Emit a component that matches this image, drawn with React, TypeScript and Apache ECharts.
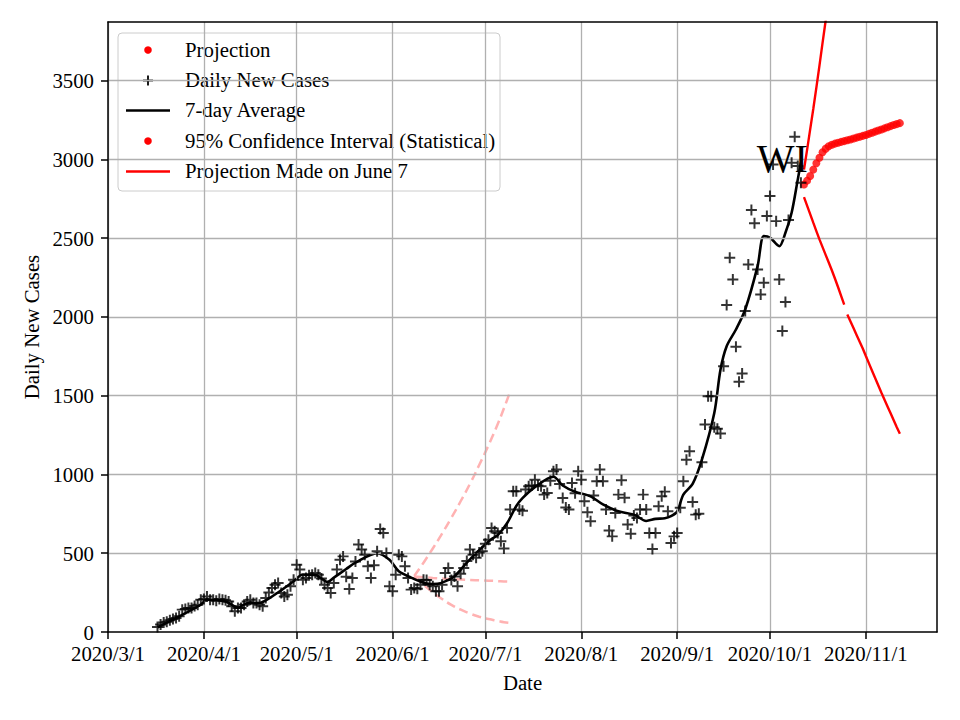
import React, { useEffect, useRef } from 'react';
import * as echarts from 'echarts';

// ---------- data ----------
const DAILY_START = '2020-03-17';
const DAILY_CASES = [
  32, 47, 61, 65, 74, 83, 89, 100, 142, 146, 152, 152, 165, 173, 205,
  210, 226, 205, 205, 199, 210, 205, 201, 194, 163, 131, 152, 152, 173, 194,
  205, 184, 184, 173, 163, 216, 250, 279, 300, 311, 248, 226, 237, 290, 332,
  427, 396, 332, 343, 360, 364, 375, 364, 340, 300, 279, 248, 311, 396, 459,
  480, 350, 273, 343, 448, 555, 523, 491, 417, 343, 424, 512, 654, 629, 502, 290,
  258, 364, 491, 480, 417, 343, 269, 279, 275, 300, 332, 330, 300, 290, 258,
  258, 300, 375, 406, 330, 353, 290, 370, 406, 450, 523, 491, 472, 504, 512,
  560, 586, 660, 640, 629, 576, 530, 660, 777, 893, 893, 777, 770, 904, 925,
  930, 967, 930, 925, 872, 883, 960, 1020, 1031, 940, 851, 790, 777, 946, 880, 1020,
  967, 830, 760, 703, 866, 957, 1031, 957, 777, 645, 607, 756, 872, 963, 852,
  682, 624, 740, 724, 777, 872, 777, 629, 527, 629, 798, 861, 891, 766, 565, 607,
  629, 788, 957, 1094, 1147, 825, 745, 750, 1077, 1317, 1497, 1497, 1300, 1290, 1260,
  1687, 2075, 2376, 2238, 1810, 1588, 1641, 2037, 2333, 2678, 2594, 2301, 2143, 2217, 2640,
  2767, 2968, 2608, 2238, 1910, 2094, 2615, 2979, 3144, 2958, 2852,
];

const AVG_DATES = [
  '2020-03-17', '2020-03-24', '2020-03-31', '2020-04-02', '2020-04-08', '2020-04-12',
  '2020-04-15', '2020-04-19', '2020-04-21', '2020-04-26', '2020-04-30', '2020-05-03',
  '2020-05-07', '2020-05-11', '2020-05-13', '2020-05-17', '2020-05-20', '2020-05-27',
  '2020-05-31', '2020-06-03', '2020-06-07', '2020-06-10', '2020-06-13', '2020-06-16',
  '2020-06-19', '2020-06-21', '2020-06-25', '2020-06-29', '2020-07-03', '2020-07-05',
  '2020-07-08', '2020-07-11', '2020-07-13', '2020-07-17', '2020-07-23', '2020-07-26',
  '2020-07-30', '2020-08-04', '2020-08-08', '2020-08-13', '2020-08-18', '2020-08-22',
  '2020-08-25', '2020-08-28', '2020-08-30', '2020-09-01', '2020-09-03', '2020-09-06',
  '2020-09-09', '2020-09-13', '2020-09-15', '2020-09-17', '2020-09-20', '2020-09-23',
  '2020-09-27', '2020-09-29', '2020-10-01', '2020-10-04', '2020-10-06', '2020-10-08',
  '2020-10-10', '2020-10-11',
];
const AVG_VALUES = [
  30, 99, 173, 205, 194, 155,
  182, 184, 200, 265, 322, 365,
  362, 318, 345, 400, 440, 500,
  458, 385, 345, 320, 305, 308,
  330, 353, 440, 520, 590, 615,
  690, 800, 850, 920, 985, 930,
  890, 861, 810, 766, 745, 705,
  718, 722, 735, 765, 872, 940,
  1094, 1390, 1665, 1814, 1920, 2047,
  2322, 2513, 2503, 2449, 2534, 2661,
  2873, 2980,
];

const PROJ_START = '2020-10-12';
const PROJECTION = [
  2840, 2865, 2895, 2935, 2975, 3010, 3045, 3068, 3083, 3093, 3100, 3106, 3111, 3116, 3121, 3126,
  3132, 3138, 3144, 3149, 3155, 3162, 3169, 3176, 3183, 3190, 3197, 3204, 3211, 3218, 3224, 3230,
];
const CI_UPPER = [2935, 3060, 3190, 3320, 3455, 3595, 3740, 3880, 4030];
const CI_LOWER_A = [2760, 2706, 2652, 2598, 2545, 2492, 2443, 2394, 2345, 2296, 2244, 2190, 2134, 2078];
const CI_LOWER_B_START = '2020-10-26';
const CI_LOWER_B = [2015, 1972, 1929, 1886, 1843, 1800, 1752, 1705, 1658, 1612, 1566, 1520, 1476, 1432, 1388, 1344, 1300, 1258];

const JUNE_DATES = [
  '2020-06-08', '2020-06-11', '2020-06-14', '2020-06-17', '2020-06-20', '2020-06-23',
  '2020-06-26', '2020-06-29', '2020-07-02', '2020-07-05', '2020-07-07', '2020-07-09',
];
const JUNE_UPPER = [355, 440, 530, 625, 725, 830, 940, 1060, 1185, 1320, 1420, 1525];
const JUNE_MID = [353, 348, 343, 339, 336, 333, 330, 328, 326, 323, 321, 320];
const JUNE_LOWER = [353, 300, 252, 210, 172, 142, 117, 97, 82, 70, 62, 57];

const X_TICKS = ['2020/3/1', '2020/4/1', '2020/5/1', '2020/6/1', '2020/7/1', '2020/8/1', '2020/9/1', '2020/10/1', '2020/11/1'];
const X_MIN = '2020/3/1';
const X_MAX = '2020/11/24';
const Y_TICKS = [0, 500, 1000, 1500, 2000, 2500, 3000, 3500];
const Y_MAX = 3872;

const LEGEND_ITEMS = [
  'Projection',
  'Daily New Cases',
  '7-day Average',
  '95% Confidence Interval (Statistical)',
  'Projection Made on June 7',
];

// ---------- helpers ----------
function parts(s: string) {
  return s.split(/[-/]/).map(Number);
}
function toTime(s: string, add = 0) {
  const [y, m, d] = parts(s);
  return new Date(y, m - 1, d + add).getTime();
}
function fmt(v: number) {
  const dt = new Date(Math.round(v));
  return `${dt.getFullYear()}/${dt.getMonth() + 1}/${dt.getDate()}`;
}
function seq(start: string, vals: number[]) {
  return vals.map((v, i) => [toTime(start, i), v]);
}

const FONT = 'Liberation Serif';
const PLUS = 'path://M0,4.1H10V5.9H0Z M4.1,0H5.9V10H4.1Z';
const RED = '#ff0000';
const PINK = '#ffb2b2';

export default function App() {
  const ref = useRef<HTMLDivElement>(null);
  useEffect(() => {
    if (!ref.current) return;
    const chart = echarts.init(ref.current, undefined, { renderer: 'svg' });
    const xTickTimes = X_TICKS.map((t) => toTime(t));
    const xMin = toTime(X_MIN);
    const xMax = toTime(X_MAX);
    const axisLineStyle = { color: '#000', width: 1.5 };
    const labelStyle = { color: '#000', fontSize: 20.8, fontFamily: FONT };

    const pinkLine = (name: string, vals: number[]) => ({
      name,
      type: 'line',
      data: JUNE_DATES.map((d, i) => [toTime(d), vals[i]]),
      showSymbol: false,
      symbol: 'none',
      smooth: true,
      z: 2,
      lineStyle: { color: PINK, width: 2.5, type: [9, 5] },
    });

    const rowY = [49, 79.5, 109.5, 140, 170.5];
    const legendChildren: any[] = [
      {
        type: 'rect',
        shape: { x: 118, y: 33, width: 382, height: 158, r: 4 },
        style: { fill: 'rgba(255,255,255,0.8)', stroke: '#cccccc', lineWidth: 1 },
      },
      { type: 'circle', shape: { cx: 148, cy: rowY[0] + 1, r: 3.8 }, style: { fill: RED } },
      { type: 'rect', shape: { x: 143, y: rowY[1] + 0.1, width: 10, height: 1.8 }, style: { fill: '#000' } },
      { type: 'rect', shape: { x: 147.1, y: rowY[1] - 4, width: 1.8, height: 10 }, style: { fill: '#000' } },
      { type: 'line', shape: { x1: 126, y1: rowY[2] + 1, x2: 170, y2: rowY[2] + 1 }, style: { stroke: '#000', lineWidth: 2.6 } },
      { type: 'circle', shape: { cx: 148, cy: rowY[3] + 1, r: 3.8 }, style: { fill: RED } },
      { type: 'line', shape: { x1: 126, y1: rowY[4] + 1, x2: 170, y2: rowY[4] + 1 }, style: { stroke: RED, lineWidth: 2.4 } },
      ...LEGEND_ITEMS.map((t, i) => ({
        type: 'text',
        x: 185,
        y: rowY[i],
        style: { text: t, font: `20.8px "${FONT}"`, fill: '#000', verticalAlign: 'middle' },
      })),
    ];

    const option: any = {
      animation: false,
      backgroundColor: '#ffffff',
      textStyle: { fontFamily: FONT },
      grid: { left: 108, top: 22, right: 23, bottom: 88, containLabel: false },
      xAxis: [
        {
          type: 'value',
          min: xMin,
          max: xMax,
          position: 'bottom',
          z: 10,
          axisLine: { show: true, onZero: false, lineStyle: axisLineStyle },
          axisTick: { show: true, length: 7, lineStyle: axisLineStyle, customValues: xTickTimes },
          axisLabel: { ...labelStyle, customValues: xTickTimes, formatter: (v: number) => fmt(v), margin: 11 },
          splitLine: { show: false },
          name: 'Date',
          nameLocation: 'middle',
          nameGap: 40,
          nameTextStyle: labelStyle,
        },
        {
          type: 'value',
          min: xMin,
          max: xMax,
          position: 'top',
          z: 10,
          axisLine: { show: true, onZero: false, lineStyle: axisLineStyle },
          axisTick: { show: false },
          axisLabel: { show: false },
          splitLine: { show: false },
        },
      ],
      yAxis: [
        {
          type: 'value',
          min: 0,
          max: Y_MAX,
          interval: 500,
          z: 10,
          axisLine: { show: true, onZero: false, lineStyle: axisLineStyle },
          axisTick: { show: true, length: 7, lineStyle: axisLineStyle, customValues: Y_TICKS },
          axisLabel: {
            ...labelStyle,
            customValues: Y_TICKS,
            margin: 14,
            formatter: (v: number) => (v % 500 === 0 ? String(v) : ''),
          },
          splitLine: { show: false },
          name: 'Daily New Cases',
          nameLocation: 'middle',
          nameGap: 66,
          nameTextStyle: labelStyle,
        },
        {
          type: 'value',
          min: 0,
          max: Y_MAX,
          position: 'right',
          z: 10,
          axisLine: { show: true, onZero: false, lineStyle: axisLineStyle },
          axisTick: { show: false },
          axisLabel: { show: false },
          splitLine: { show: false },
        },
      ],
      series: [
        {
          name: 'grid',
          type: 'line',
          data: [],
          z: 1,
          silent: true,
          markLine: {
            silent: true,
            symbol: ['none', 'none'],
            label: { show: false },
            lineStyle: { color: '#b0b0b0', width: 1.3, type: 'solid' },
            data: [
              ...xTickTimes.map((t) => ({ xAxis: t })),
              ...Y_TICKS.filter((v) => v > 0).map((v) => ({ yAxis: v })),
            ],
          },
        },
        pinkLine('June 7 upper', JUNE_UPPER),
        pinkLine('June 7 middle', JUNE_MID),
        pinkLine('June 7 lower', JUNE_LOWER),
        {
          name: '7-day Average',
          type: 'line',
          data: AVG_DATES.map((d, i) => [toTime(d), AVG_VALUES[i]]),
          showSymbol: false,
          symbol: 'none',
          smooth: 0.3,
          z: 4,
          lineStyle: { color: '#000', width: 2.6 },
        },
        {
          name: 'Projection',
          type: 'scatter',
          data: seq(PROJ_START, PROJECTION),
          symbol: 'circle',
          symbolSize: 8,
          z: 5,
          itemStyle: { color: RED },
        },
        {
          name: 'CI upper',
          type: 'line',
          data: seq(PROJ_START, CI_UPPER),
          showSymbol: false,
          symbol: 'none',
          z: 5,
          lineStyle: { color: RED, width: 2.4 },
        },
        {
          name: 'CI lower a',
          type: 'line',
          data: seq(PROJ_START, CI_LOWER_A),
          showSymbol: false,
          symbol: 'none',
          z: 5,
          lineStyle: { color: RED, width: 2.4 },
        },
        {
          name: 'CI lower b',
          type: 'line',
          data: seq(CI_LOWER_B_START, CI_LOWER_B),
          showSymbol: false,
          symbol: 'none',
          z: 5,
          lineStyle: { color: RED, width: 2.4 },
        },
        {
          name: 'Daily New Cases',
          type: 'scatter',
          data: seq(DAILY_START, DAILY_CASES),
          symbol: PLUS,
          symbolSize: 11,
          z: 6,
          itemStyle: { color: '#000' },
        },
      ],
      graphic: [
        {
          type: 'text',
          x: 756.7,
          y: 158,
          z: 50,
          style: { text: 'WI', font: `40px "${FONT}"`, fill: '#000', verticalAlign: 'middle' },
        },
        { type: 'group', z: 100, children: legendChildren },
      ],
    };
    chart.setOption(option);
    return () => chart.dispose();
  }, []);

  return (
    <div
      ref={ref}
      style={{ position: 'fixed', left: 0, top: 0, width: 960, height: 720, background: '#fff' }}
    />
  );
}
